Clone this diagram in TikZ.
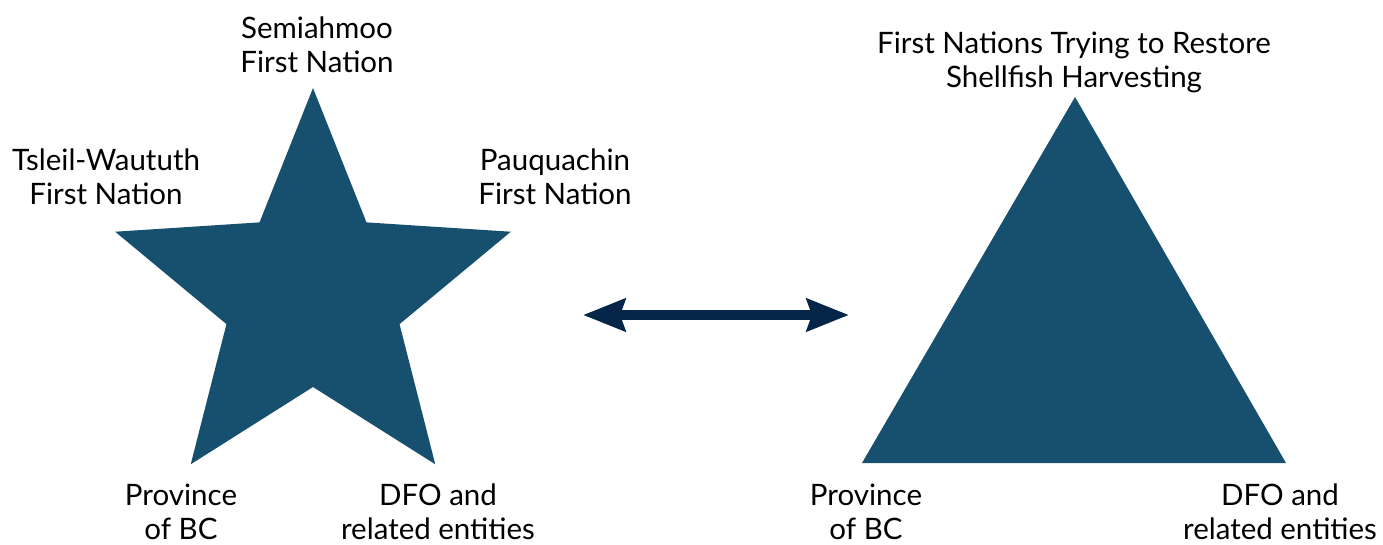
\documentclass[tikz,border=0pt]{standalone}
\usepackage{fontspec}
\setmainfont{Lato}
\usetikzlibrary{arrows.meta}
\definecolor{shapeblue}{HTML}{17506F}
\definecolor{arrownavy}{HTML}{062649}

\begin{document}
\begin{tikzpicture}[x=1pt, y=1pt,
    lbl/.style={align=center, text=black, font=\fontsize{29.5}{34}\selectfont}]
    \useasboundingbox (0,0) rectangle (1383,544);
    % star with five partners
    \fill[shapeblue, shift={(313,248)}] (90:208)
      \foreach \a in {0,72,...,288} { -- (126+\a:91) -- (162+\a:208) } -- cycle;
    \node[lbl] (semi) at (317,499) {Semiahmoo\\First Nation};
    \node[lbl] (tsle) at (106,367) {Tsleil-Waututh\\First Nation};
    \node[lbl] (pauq) at (555,367) {Pauquachin\\First Nation};
    \node[lbl] (provL) at (181,32) {Province\\of BC};
    \node[lbl] (dfoL) at (438,32) {DFO and\\related entities};
    % triangle with three partners
    \fill[shapeblue] (1075,447) -- (862,81) -- (1286,81) -- cycle;
    \node[lbl] (fnrs) at (1074,482) {First Nations Trying to Restore\\Shellfish Harvesting};
    \node[lbl] (provR) at (866,32) {Province\\of BC};
    \node[lbl] (dfoR) at (1280,32) {DFO and\\related entities};
    % double arrow between the two
    \coordinate (arrL) at (583,229);
    \coordinate (arrR) at (849,229);
    \draw[arrownavy, line width=10pt,
      {Stealth[length=42pt, width=32pt, inset=5pt]}-{Stealth[length=42pt, width=32pt, inset=5pt]}]
      (arrL) -- (arrR);
  \end{tikzpicture}
\end{document}
